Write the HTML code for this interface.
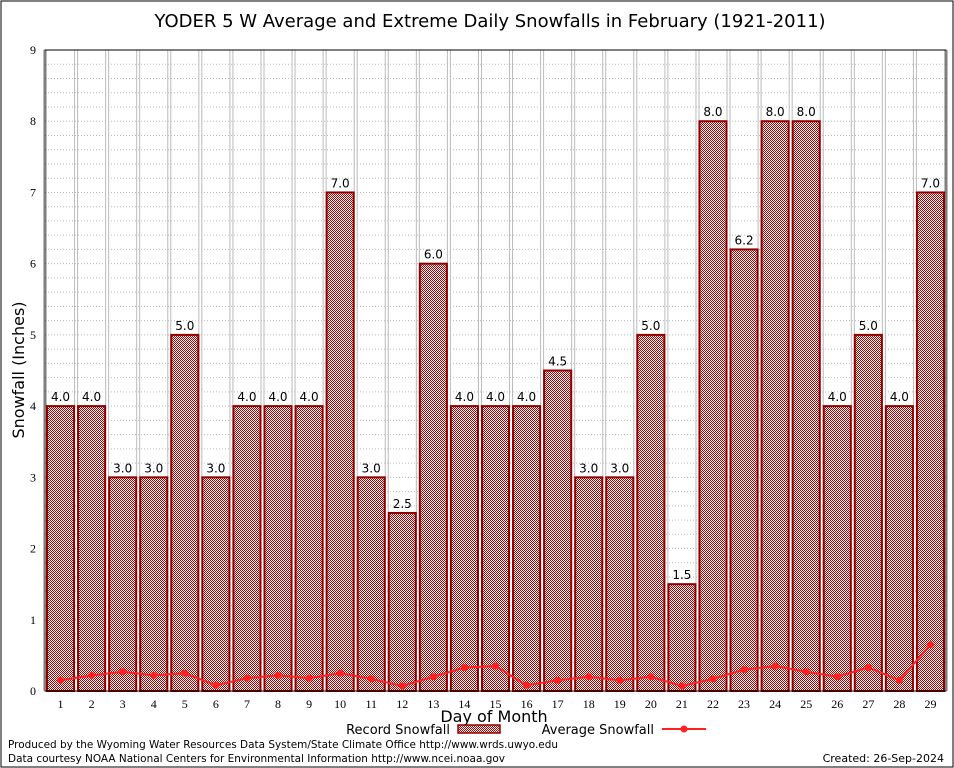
<!DOCTYPE html>
<html><head><meta charset="utf-8"><style>
body{margin:0;background:#fff}
svg{display:block;font-family:"DejaVu Sans","Liberation Sans",sans-serif}
</style></head><body>
<svg id="c" width="954" height="768" viewBox="0 0 954 768">
<defs>
<pattern id="hatch" width="2" height="2" patternUnits="userSpaceOnUse">
<rect width="2" height="2" fill="#fff"/><rect width="1" height="1" fill="#a80000"/><rect x="1" y="1" width="1" height="1" fill="#a80000"/>
</pattern>
</defs>
<rect x="1" y="1" width="952" height="766" fill="#fff" stroke="#000"/>
<text x="490" y="27" font-size="18" text-anchor="middle">YODER 5 W Average and Extreme Daily Snowfalls in February (1921-2011)</text>
<g id="grid"></g>
<g id="bars"></g>
<g id="line"></g>
<g id="axes"></g>
<text x="24" y="370" font-size="16" text-anchor="middle" transform="rotate(-90 24 370)">Snowfall (Inches)</text>
<text x="494" y="722" font-size="16" text-anchor="middle">Day of Month</text>
<g>
<text x="450" y="734" font-size="13" text-anchor="end">Record Snowfall</text>
<rect x="458" y="725" width="42" height="8" fill="url(#hatch)" stroke="#900000" stroke-width="1.5"/>
<text x="654" y="734" font-size="13" text-anchor="end">Average Snowfall</text>
<line x1="662" y1="729" x2="706" y2="729" stroke="#ff2020" stroke-width="2"/>
<circle cx="684" cy="729" r="3.5" fill="#ff2020"/>
</g>
<text x="8" y="748" font-size="11" textLength="550" lengthAdjust="spacingAndGlyphs">Produced by the Wyoming Water Resources Data System/State Climate Office http://www.wrds.uwyo.edu</text>
<text x="8" y="762" font-size="11" textLength="497" lengthAdjust="spacingAndGlyphs">Data courtesy NOAA National Centers for Environmental Information http://www.ncei.noaa.gov</text>
<text x="944" y="762" font-size="11" text-anchor="end">Created:  26-Sep-2024</text>
</svg>
<script>
const days=[1,2,3,4,5,6,7,8,9,10,11,12,13,14,15,16,17,18,19,20,21,22,23,24,25,26,27,28,29];
const records=[4.0,4.0,3.0,3.0,5.0,3.0,4.0,4.0,4.0,7.0,3.0,2.5,6.0,4.0,4.0,4.0,4.5,3.0,3.0,5.0,1.5,8.0,6.2,8.0,8.0,4.0,5.0,4.0,7.0];
const averages=[0.15,0.22,0.27,0.22,0.25,0.08,0.18,0.22,0.18,0.25,0.17,0.07,0.2,0.33,0.35,0.08,0.15,0.2,0.15,0.2,0.07,0.17,0.3,0.35,0.27,0.2,0.33,0.15,0.65];
const yTicks=[0,1,2,3,4,5,6,7,8,9];
const X0=45,X1=946,Y0=691,Y1=50,YMAX=9;
const slot=(X1-X0)/days.length;
const xc=i=>X0+slot*(i+0.5);
const y=v=>Y0-(v/YMAX)*(Y0-Y1);
const NS="http://www.w3.org/2000/svg";
function mk(p,t,a){const e=document.createElementNS(NS,t);for(const k in a)e.setAttribute(k,a[k]);p.appendChild(e);return e;}
const grid=document.getElementById('grid'),bars=document.getElementById('bars'),line=document.getElementById('line'),axes=document.getElementById('axes');
for(let v=0.2;v<YMAX;v+=0.2){const g=mk(grid,'line',{x1:X0,x2:X1,y1:y(v),y2:y(v),stroke:'#bbb','stroke-dasharray':'1,2','stroke-width':1});

}
for(let i=0;i<=days.length;i++){const xx=X0+slot*i;for(const d of [-1.5,1.5]){const g=mk(grid,'line',{x1:xx+d,x2:xx+d,y1:Y1,y2:Y0,stroke:'#bbb','stroke-width':1});

}}
records.forEach((v,i)=>{const w=slot-4;const r=mk(bars,'rect',{x:xc(i)-w/2,y:y(v),width:w,height:Y0-y(v),fill:'url(#hatch)',stroke:'#900000','stroke-width':2});


const t=mk(bars,'text',{x:xc(i),y:y(v)-5,'font-size':12,'text-anchor':'middle'});t.textContent=v.toFixed(1);


const tl=mk(axes,'text',{x:xc(i),y:708,'font-size':12,'text-anchor':'middle','font-family':'Liberation Serif, serif'});tl.textContent=days[i];

});
const pl=mk(line,'polyline',{points:averages.map((v,i)=>xc(i)+','+y(v)).join(' '),fill:'none',stroke:'#ff2020','stroke-width':2});


averages.forEach((v,i)=>{const c=mk(line,'circle',{cx:xc(i),cy:y(v),r:3.5,fill:'#ff2020'});

});
const fr=mk(axes,'rect',{x:X0,y:Y1,width:X1-X0,height:Y0-Y1,fill:'none',stroke:'#000','stroke-width':1});


yTicks.forEach(v=>{const t=mk(axes,'text',{x:36,y:y(v)+4,'font-size':12,'text-anchor':'end','font-family':'Liberation Serif, serif'});t.textContent=v;

});
</script>
</body></html>
